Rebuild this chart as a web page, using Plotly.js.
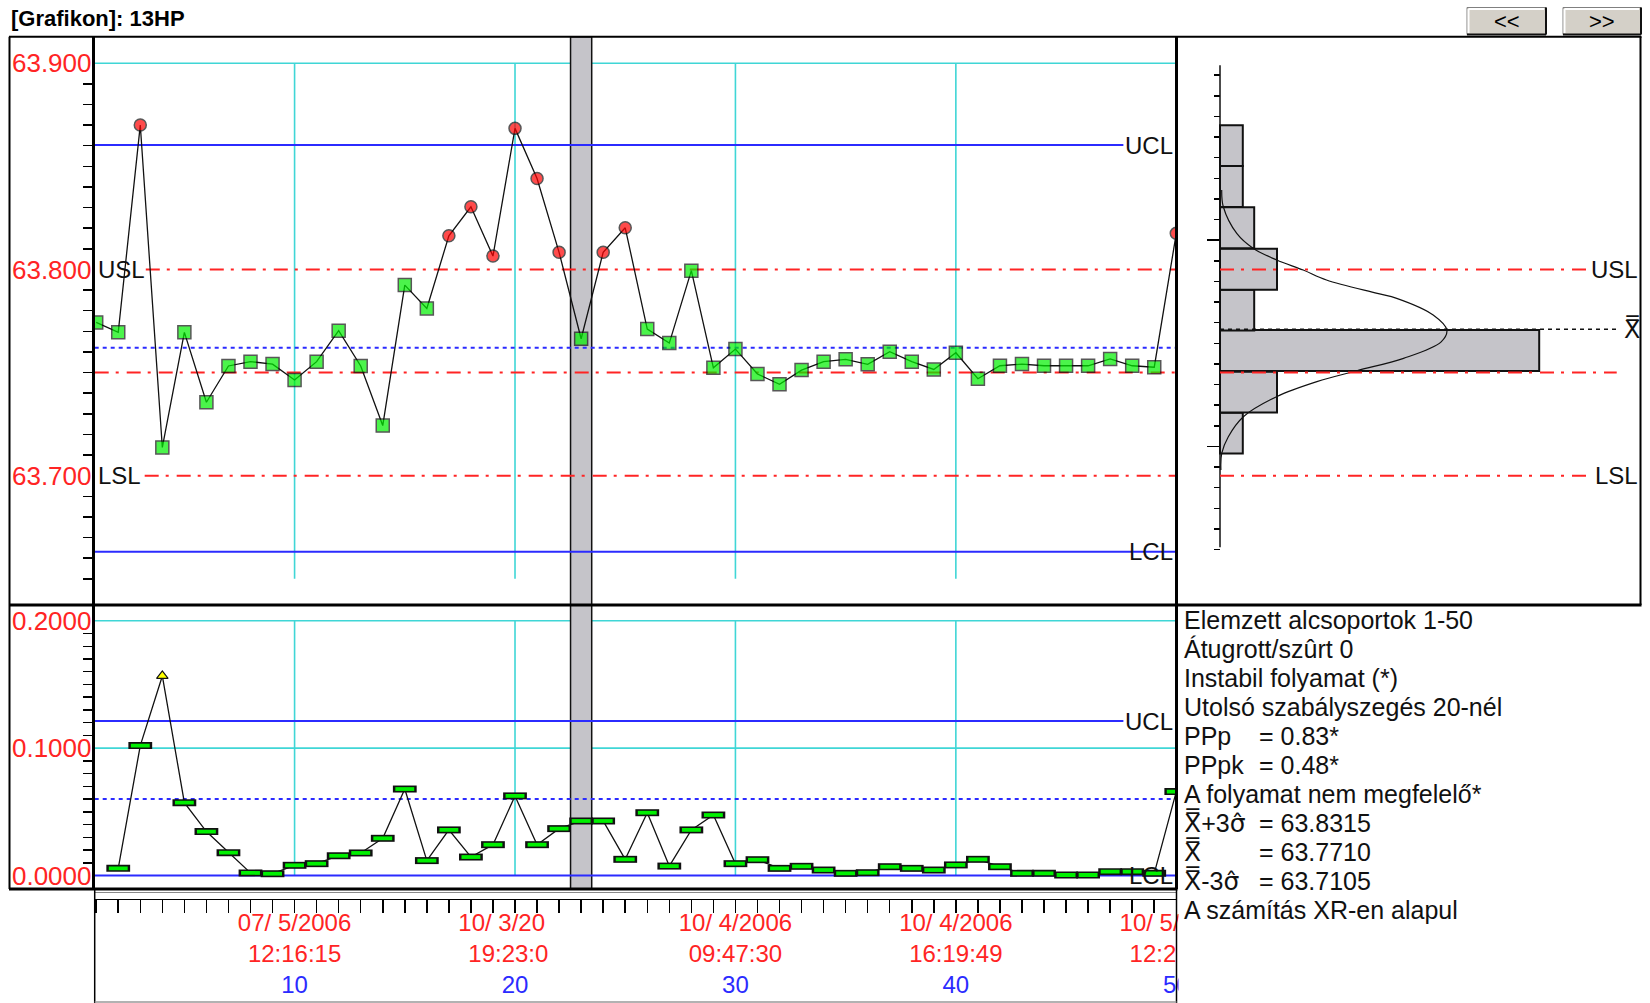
<!DOCTYPE html>
<html><head><meta charset="utf-8">
<script src="https://cdn.plot.ly/plotly-3.0.1.min.js"></script>
<style>html,body{margin:0;padding:0;background:#fff;overflow:hidden}#chart{width:1650px;height:1003px}</style>
</head><body><div id="chart"></div>
<script>
// ---------------- data ----------------
const subgroup = [1,2,3,4,5,6,7,8,9,10,11,12,13,14,15,16,17,18,19,20,21,22,23,24,25,26,27,28,29,30,31,32,33,34,35,36,37,38,39,40,41,42,43,44,45,46,47,48,49,50];
const xbarValues = [63.7743,63.7695,63.8700,63.7137,63.7695,63.7356,63.7532,63.7553,63.7541,63.7464,
  63.7553,63.7703,63.7532,63.7243,63.7924,63.7811,63.8163,63.8304,63.8065,63.8684,
  63.8441,63.8083,63.7664,63.8083,63.8202,63.7711,63.7643,63.7994,63.7523,63.7614,
  63.7493,63.7443,63.7512,63.7553,63.7564,63.7540,63.7601,63.7553,63.7515,63.7596,
  63.7470,63.7533,63.7541,63.7533,63.7533,63.7533,63.7566,63.7533,63.7526,63.8175];
const xbarOutOfControl = [3,17,18,19,20,21,22,24,25,50];
const rangeValues = [null,0.0056,0.1020,0.1567,0.0572,0.0345,0.0179,0.0020,0.0014,0.0080,
  0.0093,0.0155,0.0177,0.0292,0.0679,0.0117,0.0358,0.0145,0.0242,0.0625,
  0.0242,0.0368,0.0428,0.0428,0.0127,0.0493,0.0074,0.0358,0.0475,0.0093,
  0.0124,0.0056,0.0072,0.0043,0.0017,0.0022,0.0069,0.0056,0.0043,0.0083,
  0.0127,0.0069,0.0017,0.0017,0.0004,0.0004,0.0030,0.0030,0.0017,0.0659];
const rangeOutOfControl = [4];
const selectedSubgroup = 23;

const xUCL = 63.8603, xCL = 63.7620, xLCL = 63.6631;
const USL = 63.8, LSL = 63.7, nominal = 63.75, grandMean = 63.771;
const rUCL = 0.1213, rCL = 0.0601, rLCL = 0.0;

const tickSubgroups = [10,20,30,40,50];
const tickDates = ['07/ 5/2006','10/ 3/20\u00a0\u00a0\u00a0\u00a0','10/ 4/2006','10/ 4/2006','10/ 5/\u00a0\u00a0\u00a0\u00a0\u00a0\u00a0\u00a0\u00a0'];
const tickTimes = ['12:16:15','19:23:0\u00a0\u00a0','09:47:30','16:19:49','12:2\u00a0\u00a0\u00a0\u00a0\u00a0\u00a0\u00a0'];

const histBinCenters = [63.7206,63.7405,63.7607,63.7803,63.8001,63.8202,63.8402,63.8600];
const histCounts = [2,5,28,3,5,3,2,2];
const histBinWidth = 0.0198;
const curveValues = [63.8385,63.8304,63.8175,63.8102,63.8046,63.7997,63.7949,63.7884,63.7860,63.7779,63.7706,63.7649,63.7569,63.7509,63.7456,63.7383,63.7286,63.7189,63.7108,63.7028];
const curveCounts = [0.15,0.29,1.47,2.93,4.97,7.3,9.34,13.8,15.5,18.7,19.9,19.4,16.1,12.0,8.5,4.96,2.05,0.73,0.15,0.08];

const XBB = "<span style='font-family:DejaVu Sans'>X\u033F</span>";
const SIG = "<span style='font-family:DejaVu Sans'>σ\u0302</span>";
const statLabels = ['Elemzett alcsoportok 1-50','Átugrott/szûrt 0','Instabil folyamat (*)','Utolsó szabályszegés 20-nél','PPp','PPpk','A folyamat nem megfelelő*', XBB + '+3' + SIG, XBB, XBB + '-3' + SIG,'A számítás XR-en alapul'];
const statValues = ['','','','','= 0.83*','= 0.48*','','= 63.8315','= 63.7710','= 63.7105',''];

// ---------------- geometry (pixels) ----------------
const W = 1650, H = 1003;
const fx = p => p / W, fy = p => 1 - p / H;
const plotL = 94.7, plotR = 1176.5, histR = 1640.5, histAxisX = 1220;
const topY = 36.8, midY = 605, botY = 889, stripY = 898;
const xRange = [0.932, 50.01];
const yRangeX = [63.6373, 63.9128];
const yRangeR = [-0.0106, 0.2124];
const histXRange = [-3.816, 36.886];

const FONT = 'Liberation Sans, Arial, sans-serif';
const RED = '#ff2424', BLUE = '#2b2bff', CYAN = '#3fd6d6', GREEN = '#00f000', GRAY = '#c5c4c9';
const DASHDOT = '14px,7px,3px,8px';

// ---------------- traces ----------------
const outX = subgroup.map(i => xbarOutOfControl.includes(i));
const rNormX = [], rNormY = [], rOutXs = [], rOutYs = [];
subgroup.forEach((s, k) => {
  if (rangeValues[k] === null) return;
  if (rangeOutOfControl.includes(s)) { rOutXs.push(s); rOutYs.push(rangeValues[k]); }
  else { rNormX.push(s); rNormY.push(rangeValues[k]); }
});

const traces = [
  {x: subgroup, y: xbarValues, xaxis: 'x', yaxis: 'y', mode: 'lines+markers', hoverinfo: 'skip',
   line: {color: '#111', width: 1.3},
   marker: {symbol: outX.map(o => o ? 'circle' : 'square'), size: outX.map(o => o ? 12 : 13),
            color: outX.map(o => o ? '#ff0000' : GREEN), line: {color: '#111', width: 1.5}}},
  {x: subgroup, y: rangeValues, xaxis: 'x2', yaxis: 'y2', mode: 'lines', hoverinfo: 'skip',
   line: {color: '#111', width: 1.3}},
  {x: rNormX, y: rNormY, xaxis: 'x2', yaxis: 'y2', mode: 'markers', hoverinfo: 'skip',
   marker: {symbol: 'line-ew', size: 17, color: '#111', line: {color: '#111', width: 7}}},
  {x: rNormX, y: rNormY, xaxis: 'x2', yaxis: 'y2', mode: 'markers', hoverinfo: 'skip',
   marker: {symbol: 'line-ew', size: 13.5, color: GREEN, line: {color: GREEN, width: 3.8}}},
  {x: rOutXs, y: rOutYs, xaxis: 'x2', yaxis: 'y2', mode: 'markers', hoverinfo: 'skip',
   marker: {symbol: 'triangle-up', size: 10, color: '#ffff00', line: {color: '#111', width: 1.2}}},
  {type: 'bar', orientation: 'h', y: histBinCenters, x: histCounts, width: histBinWidth,
   xaxis: 'x3', yaxis: 'y3', hoverinfo: 'skip',
   marker: {color: GRAY, line: {color: '#111', width: 2}}},
  {x: curveCounts, y: curveValues, xaxis: 'x3', yaxis: 'y3', mode: 'lines', hoverinfo: 'skip',
   line: {color: '#111', width: 1.2, shape: 'spline'}},
  {x: [null], y: [null], xaxis: 'x4', yaxis: 'y4', mode: 'markers', hoverinfo: 'skip'}
];

// ---------------- axes ----------------
const upperMinor = [], lowerMinor = [], histMinor = [];
for (let k = 0; k <= 24; k++) { const v = +(63.65 + k * 0.01).toFixed(3); if (Math.abs(v - 63.7) > 1e-6 && Math.abs(v - 63.8) > 1e-6) upperMinor.push(v); }
for (let k = 1; k <= 19; k++) { if (k !== 10) lowerMinor.push(+(k * 0.01).toFixed(3)); }
for (let k = 0; k < 24; k++) histMinor.push(+(63.8942 - k * 0.01).toFixed(4));

const hidden = {showgrid: false, zeroline: false, showticklabels: false, ticks: '', showline: false};
const layout = {
  width: W, height: H, margin: {l: 0, r: 0, t: 0, b: 0},
  paper_bgcolor: '#fff', plot_bgcolor: '#fff', showlegend: false, hovermode: false,
  font: {family: FONT, color: '#111'},
  bargap: 0,
  xaxis: Object.assign({}, hidden, {domain: [fx(plotL), fx(plotR)], range: xRange, anchor: 'y'}),
  yaxis: {domain: [fy(midY), fy(topY)], range: yRangeX, anchor: 'x', showgrid: false, zeroline: false,
          showline: true, linecolor: '#000', linewidth: 3, ticks: '', ticklabelstandoff: -5,
          tickmode: 'array', tickvals: [63.7, 63.8, 63.9], ticktext: ['63.700', '63.800', '63.900'],
          tickfont: {color: RED, size: 26, family: FONT},
          minor: {ticks: 'outside', ticklen: 9, tickwidth: 1.5, tickcolor: '#000', tickmode: 'array', tickvals: upperMinor, showgrid: false}},
  xaxis2: Object.assign({}, hidden, {domain: [fx(plotL), fx(plotR)], range: xRange, anchor: 'y2'}),
  yaxis2: {domain: [fy(botY), fy(midY)], range: yRangeR, anchor: 'x2', showgrid: false, zeroline: false,
          showline: true, linecolor: '#000', linewidth: 3, ticks: '', ticklabelstandoff: -5,
          tickmode: 'array', tickvals: [0, 0.1, 0.2], ticktext: ['0.0000', '0.1000', '0.2000'],
          tickfont: {color: RED, size: 26, family: FONT},
          minor: {ticks: 'outside', ticklen: 9, tickwidth: 1.5, tickcolor: '#000', tickmode: 'array', tickvals: lowerMinor, showgrid: false}},
  xaxis3: Object.assign({}, hidden, {domain: [fx(plotR), fx(histR)], range: histXRange, anchor: 'y3'}),
  yaxis3: {domain: [fy(midY), fy(topY)], range: yRangeX, anchor: 'free', position: fx(histAxisX),
          showgrid: false, zeroline: false, showline: false, showticklabels: false,
          ticks: 'outside', ticklen: 13, tickwidth: 1.5, tickcolor: '#000',
          tickmode: 'array', tickvals: [histMinor[8], histMinor[18]],
          minor: {ticks: 'outside', ticklen: 6, tickwidth: 1.5, tickcolor: '#000', tickmode: 'array', tickvals: histMinor, showgrid: false}},
  xaxis4: {domain: [fx(plotL), fx(plotR)], range: xRange, anchor: 'y4', showgrid: false, zeroline: false,
          showline: true, linecolor: '#000', linewidth: 1.5,
          ticks: 'outside', ticklen: 13, tickwidth: 1.5, tickcolor: '#000', ticklabelstandoff: -11,
          tickmode: 'array', tickvals: tickSubgroups,
          ticktext: tickSubgroups.map((s, k) => tickDates[k] + '<br>' + tickTimes[k] + "<br><span style='color:" + BLUE + "'>" + s + '</span>'),
          tickfont: {color: RED, size: 24, family: FONT}, tickangle: 0,
          minor: {ticks: 'outside', ticklen: 13, tickwidth: 1.5, tickcolor: '#000', tickmode: 'array', tickvals: subgroup, showgrid: false}},
  yaxis4: Object.assign({}, hidden, {domain: [fy(stripY + 0.5), fy(stripY - 0.5)], range: [0, 1], anchor: 'x4'}),
  shapes: [], annotations: []
};

// ---------------- shapes ----------------
const S = layout.shapes;
const line = (xref, yref, x0, y0, x1, y1, color, width, dash, layer) =>
  S.push({type: 'line', xref, yref, x0, y0, x1, y1, layer: layer || 'below', line: {color, width, dash: dash || 'solid'}});
const gridX = [10, 20, 30, 40];
gridX.forEach(v => line('x', 'y', v, 63.65, v, 63.9, CYAN, 1.6));
line('x', 'y', xRange[0], 63.9, xRange[1], 63.9, CYAN, 1.6);
gridX.forEach(v => line('x2', 'y2', v, 0, v, 0.2, CYAN, 1.6));
[0.1, 0.2].forEach(v => line('x2', 'y2', xRange[0], v, xRange[1], v, CYAN, 1.6));
S.push({type: 'rect', xref: 'x', yref: 'y', x0: selectedSubgroup - 0.48, x1: selectedSubgroup + 0.48, y0: yRangeX[0], y1: yRangeX[1], layer: 'below', fillcolor: GRAY, line: {color: '#111', width: 1.5}});
S.push({type: 'rect', xref: 'x2', yref: 'y2', x0: selectedSubgroup - 0.48, x1: selectedSubgroup + 0.48, y0: yRangeR[0], y1: yRangeR[1], layer: 'below', fillcolor: GRAY, line: {color: '#111', width: 1.5}});
line('x', 'y', xRange[0], xUCL, 47.6, xUCL, BLUE, 2);
line('x', 'y', 3.25, USL, xRange[1], USL, RED, 2, DASHDOT);
line('x', 'y', xRange[0], xCL, xRange[1], xCL, BLUE, 2, '4px,4px');
line('x', 'y', xRange[0], nominal, xRange[1], nominal, RED, 2, DASHDOT);
line('x', 'y', 3.2, LSL, xRange[1], LSL, RED, 2, DASHDOT);
line('x', 'y', xRange[0], xLCL, xRange[1], xLCL, BLUE, 2);
line('x2', 'y2', xRange[0], rUCL, 47.6, rUCL, BLUE, 2);
line('x2', 'y2', xRange[0], rCL, xRange[1], rCL, BLUE, 2, '4px,4px');
line('x2', 'y2', xRange[0], rLCL, xRange[1], rLCL, BLUE, 2);
line('x3', 'y3', 0, 63.899, 0, 63.6653, '#111', 1.5, 'solid', 'above');
line('x3', 'y3', 0, USL, 32.6, USL, RED, 2, DASHDOT, 'above');
line('x3', 'y3', 0, LSL, 32.3, LSL, RED, 2, DASHDOT, 'above');
line('x3', 'y3', 0, nominal, 34.8, nominal, RED, 2, DASHDOT, 'above');
line('x3', 'y3', 0, grandMean, 34.96, grandMean, '#111', 1.5, '4px,4px', 'above');
const pline = (x0, y0, x1, y1, color, width) =>
  S.push({type: 'line', xref: 'paper', yref: 'paper', x0: fx(x0), y0: fy(y0), x1: fx(x1), y1: fy(y1), layer: 'above', line: {color, width}});
S.push({type: 'rect', xref: 'paper', yref: 'paper', x0: fx(1178.5), x1: fx(1262), y0: fy(1001), y1: fy(905), layer: 'above', fillcolor: '#fff', line: {width: 0}});
pline(9, topY, 1641.5, topY, '#000', 2);
pline(9.5, topY, 9.5, botY, '#000', 2);
pline(9, midY, 1641.5, midY, '#000', 3);
pline(9, botY, plotR + 1, botY, '#000', 3);
pline(plotL, 892.5, plotR, 892.5, '#888', 1);
pline(plotR, topY, plotR, botY, '#000', 3);
pline(plotR, botY, plotR, 1003, '#000', 1.5);
pline(plotL, botY, plotL, 1003, '#000', 1.5);
pline(plotL, 1002, plotR, 1002, '#999', 1.5);
pline(histR, topY, histR, midY, '#000', 2);
[[1467, 1546], [1563, 1641]].forEach(b => {
  S.push({type: 'rect', xref: 'paper', yref: 'paper', x0: fx(b[0]), x1: fx(b[1]), y0: fy(34.5), y1: fy(7.5), layer: 'above', fillcolor: '#d4d0c8', line: {color: '#808080', width: 1}});
  pline(b[0] + 1.5, 9, b[1] - 2, 9, '#fff', 2);
  pline(b[0] + 1.5, 9, b[0] + 1.5, 33, '#fff', 2);
  pline(b[0], 34.5, b[1], 34.5, '#111', 2);
  pline(b[1], 7.5, b[1], 34.5, '#111', 2);
});

// ---------------- annotations ----------------
const A = layout.annotations;
const ann = (o) => A.push(Object.assign({showarrow: false, xref: 'paper', yref: 'paper', borderpad: 0, font: {family: FONT, size: 24, color: '#111'}}, o));
ann({text: '<b>[Grafikon]: 13HP</b>', x: fx(10), y: fy(18), xanchor: 'left', yanchor: 'middle', font: {family: FONT, size: 22, color: '#000'}});
ann({text: '&lt;&lt;', x: fx(1506.5), y: fy(21), xanchor: 'center', yanchor: 'middle', font: {family: FONT, size: 22, color: '#000'}});
ann({text: '&gt;&gt;', x: fx(1602), y: fy(21), xanchor: 'center', yanchor: 'middle', font: {family: FONT, size: 22, color: '#000'}});
ann({text: 'USL', x: fx(97), yref: 'y', y: USL, xanchor: 'left', yanchor: 'middle'});
ann({text: 'LSL', x: fx(97), yref: 'y', y: LSL, xanchor: 'left', yanchor: 'middle'});
ann({text: 'UCL', x: fx(1174), yref: 'y', y: xUCL, xanchor: 'right', yanchor: 'middle'});
ann({text: 'LCL', x: fx(1174), yref: 'y', y: xLCL, xanchor: 'right', yanchor: 'middle'});
ann({text: 'UCL', x: fx(1174), yref: 'y2', y: rUCL, xanchor: 'right', yanchor: 'middle'});
ann({text: 'LCL', x: fx(1174), yref: 'y2', y: rLCL, xanchor: 'right', yanchor: 'middle'});
ann({text: 'USL', x: fx(1639), yref: 'y3', y: USL, xanchor: 'right', yanchor: 'middle'});
ann({text: 'LSL', x: fx(1639), yref: 'y3', y: LSL, xanchor: 'right', yanchor: 'middle'});
ann({text: XBB, x: fx(1641), yref: 'y3', y: grandMean, xanchor: 'right', yanchor: 'middle'});
statLabels.forEach((t, k) => {
  const yy = 620 + k * 29.04;
  ann({text: t, x: fx(1183), y: fy(yy), xanchor: 'left', yanchor: 'middle', font: {family: FONT, size: 25, color: '#111'}});
  if (statValues[k]) ann({text: statValues[k], x: fx(1258), y: fy(yy), xanchor: 'left', yanchor: 'middle', font: {family: FONT, size: 25, color: '#111'}});
});

Plotly.newPlot('chart', traces, layout, {staticPlot: true, displayModeBar: false});
</script>
</body></html>
